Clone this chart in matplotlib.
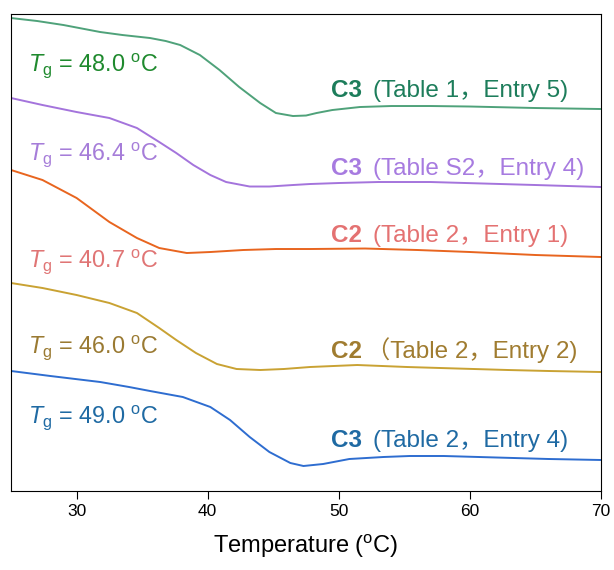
import matplotlib.pyplot as plt

plt.rcParams['font.family'] = ['Liberation Sans', 'Noto Sans CJK SC']
plt.rcParams['mathtext.fontset'] = 'custom'
plt.rcParams['mathtext.rm'] = 'Liberation Sans'
plt.rcParams['mathtext.it'] = 'Liberation Sans:italic'
plt.rcParams['mathtext.bf'] = 'Liberation Sans:bold'

# curves: temperature (°C) and offset heat-flow (arb. units)
t_green = [25, 27, 29, 31.8, 33.5, 35.6, 36.8, 37.9, 39.4, 40.9, 42.4, 44, 45.2,
           46.5, 47.5, 48.3, 49.5, 51.6, 54, 57, 60, 65, 70]
y_green = [473, 470, 466, 459, 456, 453, 450, 446, 436, 421, 404, 388, 378,
           375, 375.5, 378, 381, 384, 385, 385, 384.5, 383, 382]

t_purple = [25, 27.4, 30, 32.5, 34.6, 36.3, 37.6, 38.9, 40.2, 41.4, 43.2, 44.7,
            46.5, 47.8, 50, 53, 57, 61, 65, 70]
y_purple = [393, 386, 379, 373, 363, 349, 338, 326, 316, 309, 304.5, 304.5,
            306, 307, 308, 309, 309, 307.5, 306, 304]

t_orange = [25, 27.4, 30, 32.5, 34.6, 36.3, 38.4, 40.2, 42.7, 45.2, 47.8, 52,
            56, 60, 65, 70]
y_orange = [321, 311, 293, 269, 253, 243, 238, 239, 241, 242, 242, 242.5,
            241, 239, 236, 234]

t_gold = [25, 27.4, 30, 32.5, 34.6, 36.3, 37.6, 39.1, 40.7, 42.2, 44, 45.8,
          47.8, 51.4, 55.2, 59, 62.9, 66, 70]
y_gold = [208, 203, 196, 188, 178, 163, 151, 138, 127, 122, 121, 122,
          124, 126, 124, 122.5, 121, 120, 119]

t_blue = [25, 28, 31.8, 34, 35.6, 38.1, 40.2, 41.7, 43.2, 44.7, 46.3, 47.3,
          48.8, 50.8, 53.4, 55.4, 58, 62, 66, 70]
y_blue = [120, 115, 109, 104, 100, 94, 84, 71, 54, 39, 28, 25,
          27, 32, 34, 35, 35, 33.5, 32, 31]

tg_labels = ["48.0", "46.4", "40.7", "46.0", "49.0"]
tg_y = [425, 336, 229, 143, 73]
samples = ["C3", "C3", "C2", "C2", "C3"]
sources = ["(Table 1，Entry 5)", "(Table S2，Entry 4)", "(Table 2，Entry 1)",
           "（Table 2，Entry 2)", "(Table 2，Entry 4)"]
src_gap = [8, 8, 8, 3, 8]
src_y = [394, 316, 249, 133, 44]

curves = [(t_green, y_green), (t_purple, y_purple), (t_orange, y_orange),
          (t_gold, y_gold), (t_blue, y_blue)]
line_colors = ["#4fa27a", "#a474dc", "#e8651f", "#c9a233", "#2e6dd0"]
tg_colors = ["#1f8a2e", "#a67dd9", "#e07575", "#9a7a32", "#1f6aa3"]
src_colors = ["#1d7d5b", "#a77be0", "#e47272", "#a07c30", "#1f6aa3"]

fig = plt.figure(figsize=(6.14, 5.70), dpi=100)
ax = fig.add_axes([0.018, 0.1386, 0.961, 0.8368])

for (t, y), c in zip(curves, line_colors):
    ax.plot(t, y, color=c, lw=1.4, solid_joinstyle='round')

for lab, yy, c in zip(tg_labels, tg_y, tg_colors):
    ax.text(26.3, yy, r"$T_{\rm g}$ = " + lab + r" $^{\rm o}$C", color=c,
            fontsize=16.8, va='center', ha='left')

for s, src, g, yy, c in zip(samples, sources, src_gap, src_y, src_colors):
    t1 = ax.text(49.4, yy, s, color=c, fontsize=17.5, fontweight='bold',
                 va='baseline', ha='left')
    ax.annotate(src, xy=(1, 0), xycoords=t1, xytext=(g, 0),
                textcoords='offset points', color=c, fontsize=17.5,
                va='bottom', ha='left')

ax.set_xlim(25, 70)
ax.set_ylim(0, 477)
ax.set_xticks([30, 40, 50, 60, 70])
ax.set_yticks([])
ax.tick_params(axis='x', direction='out', length=6, labelsize=12.5)
ax.set_xlabel(r"Temperature ($^{\rm o}$C)", fontsize=17, labelpad=10)

fig.savefig("out.png", dpi=100)
